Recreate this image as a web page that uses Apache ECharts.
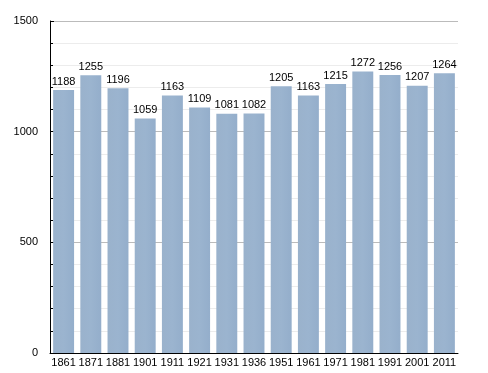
<!DOCTYPE html>
<html><head><meta charset="utf-8">
<script src="https://cdn.jsdelivr.net/npm/echarts@6/dist/echarts.min.js"></script>
<style>html,body{margin:0;padding:0;background:#fff}#c{width:488px;height:373px}</style>
</head><body><div id="c"></div>
<script>
var years = ['1861','1871','1881','1901','1911','1921','1931','1936','1951','1961','1971','1981','1991','2001','2011'];
var population = [1188,1255,1196,1059,1163,1109,1081,1082,1205,1163,1215,1272,1256,1207,1264];
var yTicks = [0,500,1000,1500];

var chart = echarts.init(document.getElementById('c'), null, {renderer:'canvas'});
var font = 'Liberation Sans, Arial, sans-serif';
chart.setOption({
  animation:false,
  grid:{left:50,right:30,top:21,bottom:20,containLabel:false},
  xAxis:{
    type:'category', data:years,
    axisLine:{lineStyle:{color:'#000',width:1}},
    axisTick:{show:false},
    axisLabel:{color:'#000',fontFamily:font,fontSize:11,margin:4,interval:0}
  },
  yAxis:{
    type:'value', min:yTicks[0], max:yTicks[yTicks.length-1], interval:500,
    axisLine:{show:true,lineStyle:{color:'#000',width:1}},
    axisTick:{show:true,inside:true,length:4,lineStyle:{color:'#000'}},
    minorTick:{show:true,splitNumber:5,length:3,lineStyle:{color:'#000'}},
    splitLine:{show:true,lineStyle:{color:'#bbbbbb',width:1}},
    minorSplitLine:{show:true,lineStyle:{color:'#ececec',width:1}},
    axisLabel:{color:'#000',fontFamily:font,fontSize:11,margin:12,formatter:function(v){return String(v);}}
  },
  series:[{
    type:'bar', data:population, barCategoryGap:'23%',
    itemStyle:{color:new echarts.graphic.LinearGradient(0,0,1,0,[
      {offset:0,color:'#9ab2cc'},{offset:0.5,color:'#9bb4cf'},{offset:1,color:'#94aecb'}])},
    label:{show:true,position:'top',color:'#000',fontFamily:font,fontSize:11,distance:3}
  }]
});
</script></body></html>
